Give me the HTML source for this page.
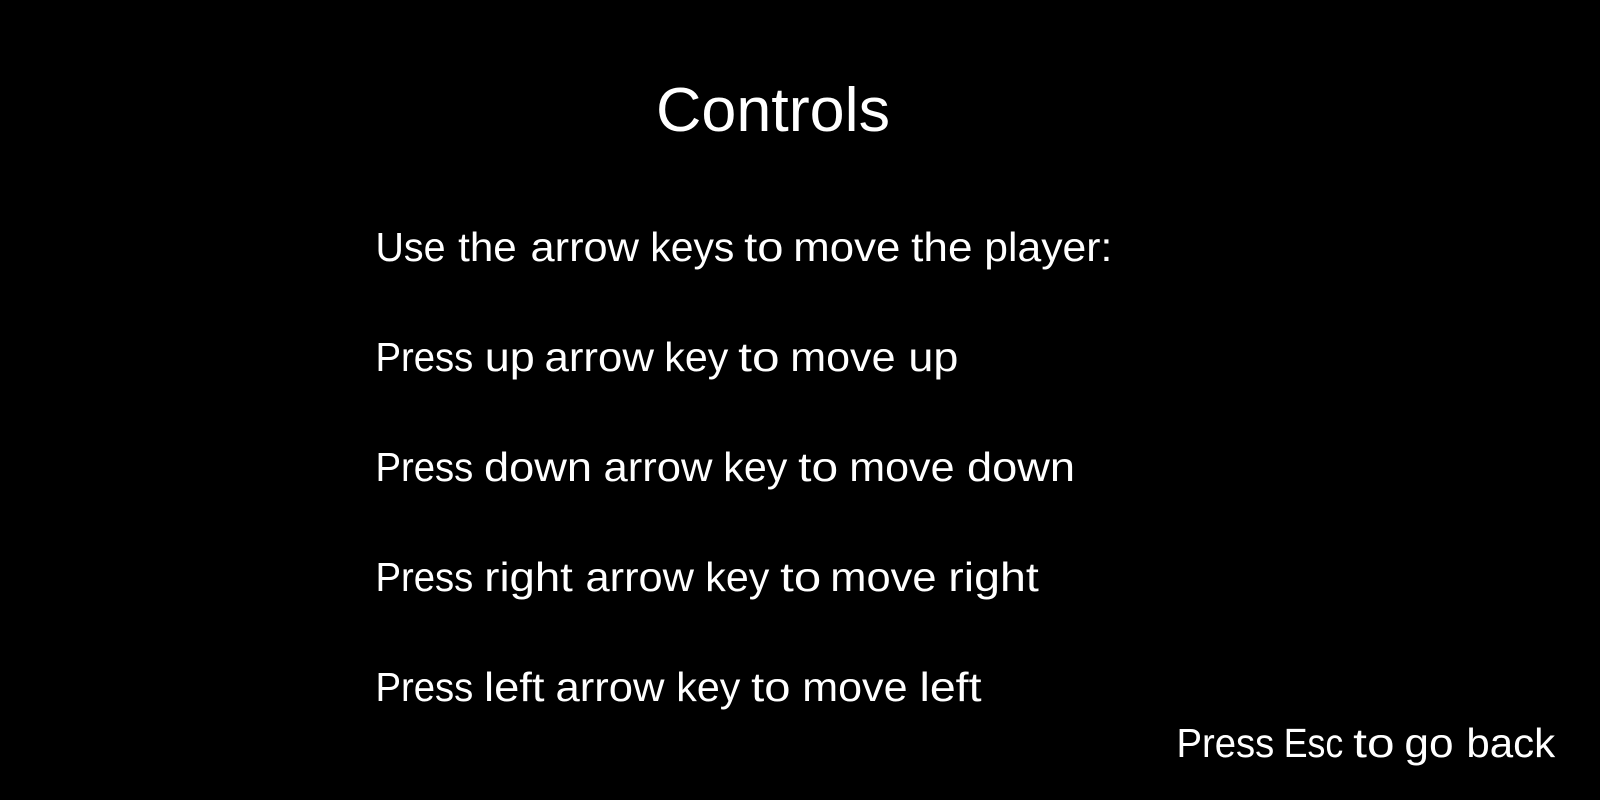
<!DOCTYPE html>
<html lang="en">
<head>
<meta charset="utf-8">
<title>Controls</title>
<style>
  html, body { margin: 0; padding: 0; background: #000; width: 1600px; height: 800px; overflow: hidden; }
  svg { display: block; }
  text { fill: #fff; font-family: "Liberation Sans", sans-serif; font-size: 41px; }
</style>
</head>
<body>
<svg width="1600" height="800" viewBox="0 0 1600 800">
  <rect width="1600" height="800" fill="#000"/>
  <text x="656" y="131" style="font-size:62px" textLength="234" lengthAdjust="spacingAndGlyphs">Controls</text>
  <text y="261"><tspan x="375.5" textLength="70" lengthAdjust="spacingAndGlyphs">Use</tspan> <tspan x="458.2" textLength="58.5" lengthAdjust="spacingAndGlyphs">the</tspan> <tspan x="530.5" textLength="108.5" lengthAdjust="spacingAndGlyphs">arrow</tspan> <tspan x="650.3" textLength="84" lengthAdjust="spacingAndGlyphs">keys</tspan> <tspan x="744.2" textLength="39.4" lengthAdjust="spacingAndGlyphs">to</tspan> <tspan x="793.3" textLength="107" lengthAdjust="spacingAndGlyphs">move</tspan> <tspan x="911.2" textLength="61.3" lengthAdjust="spacingAndGlyphs">the</tspan> <tspan x="984.3" textLength="128" lengthAdjust="spacingAndGlyphs">player:</tspan></text>
  <text y="371"><tspan x="375.5" textLength="97.8" lengthAdjust="spacingAndGlyphs">Press</tspan> <tspan x="484.8" textLength="50" lengthAdjust="spacingAndGlyphs">up</tspan> <tspan x="544.5" textLength="109.5" lengthAdjust="spacingAndGlyphs">arrow</tspan> <tspan x="664.3" textLength="64" lengthAdjust="spacingAndGlyphs">key</tspan> <tspan x="738.2" textLength="41.4" lengthAdjust="spacingAndGlyphs">to</tspan> <tspan x="790.3" textLength="105.2" lengthAdjust="spacingAndGlyphs">move</tspan> <tspan x="908.4" textLength="50" lengthAdjust="spacingAndGlyphs">up</tspan></text>
  <text y="481"><tspan x="375.5" textLength="97.8" lengthAdjust="spacingAndGlyphs">Press</tspan> <tspan x="484" textLength="108" lengthAdjust="spacingAndGlyphs">down</tspan> <tspan x="603.5" textLength="109" lengthAdjust="spacingAndGlyphs">arrow</tspan> <tspan x="723.3" textLength="64" lengthAdjust="spacingAndGlyphs">key</tspan> <tspan x="798.2" textLength="40" lengthAdjust="spacingAndGlyphs">to</tspan> <tspan x="849.3" textLength="105.2" lengthAdjust="spacingAndGlyphs">move</tspan> <tspan x="967" textLength="108" lengthAdjust="spacingAndGlyphs">down</tspan></text>
  <text y="591"><tspan x="375.5" textLength="97.8" lengthAdjust="spacingAndGlyphs">Press</tspan> <tspan x="484.3" textLength="88.5" lengthAdjust="spacingAndGlyphs">right</tspan> <tspan x="585.5" textLength="108.5" lengthAdjust="spacingAndGlyphs">arrow</tspan> <tspan x="705.3" textLength="64" lengthAdjust="spacingAndGlyphs">key</tspan> <tspan x="780.2" textLength="41" lengthAdjust="spacingAndGlyphs">to</tspan> <tspan x="830.3" textLength="106.2" lengthAdjust="spacingAndGlyphs">move</tspan> <tspan x="948.3" textLength="90.5" lengthAdjust="spacingAndGlyphs">right</tspan></text>
  <text y="701"><tspan x="375.5" textLength="97.8" lengthAdjust="spacingAndGlyphs">Press</tspan> <tspan x="484" textLength="60.5" lengthAdjust="spacingAndGlyphs">left</tspan> <tspan x="555.5" textLength="109" lengthAdjust="spacingAndGlyphs">arrow</tspan> <tspan x="676.3" textLength="64" lengthAdjust="spacingAndGlyphs">key</tspan> <tspan x="751.2" textLength="39.4" lengthAdjust="spacingAndGlyphs">to</tspan> <tspan x="802.3" textLength="105.2" lengthAdjust="spacingAndGlyphs">move</tspan> <tspan x="919.5" textLength="62" lengthAdjust="spacingAndGlyphs">left</tspan></text>
  <text y="757"><tspan x="1176.5" textLength="97.8" lengthAdjust="spacingAndGlyphs">Press</tspan> <tspan x="1283.7" textLength="59.5" lengthAdjust="spacingAndGlyphs">Esc</tspan> <tspan x="1353.2" textLength="41.4" lengthAdjust="spacingAndGlyphs">to</tspan> <tspan x="1404.4" textLength="49.2" lengthAdjust="spacingAndGlyphs">go</tspan> <tspan x="1466.4" textLength="88.8" lengthAdjust="spacingAndGlyphs">back</tspan></text>
</svg>
</body>
</html>
